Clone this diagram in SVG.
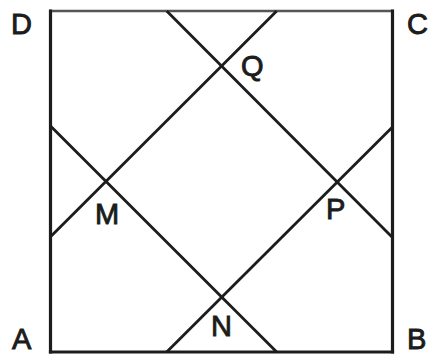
<svg xmlns="http://www.w3.org/2000/svg" width="431" height="355" viewBox="0 0 431 355">
<style>
.e{stroke:#1c1c1c;stroke-width:3.2;fill:none;stroke-linecap:square}
.l{stroke:#1c1c1c;stroke-width:2.8;fill:none}
text{font-family:"Liberation Sans",Arial,sans-serif;font-size:29px;fill:#1c1c1c;stroke:#1c1c1c;stroke-width:0.9}
</style>
<rect width="431" height="355" fill="#fff"/>
<g id="square">
<line class="e" x1="50.5" y1="11" x2="392.5" y2="11" style="stroke:#555;stroke-width:2.4"/>
<line class="e" x1="50.5" y1="11" x2="50.5" y2="352"/>
<line class="e" x1="392.5" y1="11" x2="392.5" y2="352"/>
<line class="e" x1="50.5" y1="352" x2="392.5" y2="352"/>
</g>
<g id="connectors">
<line class="l" x1="166.7" y1="11" x2="392.5" y2="237.5"/>
<line class="l" x1="276.7" y1="11" x2="50.5" y2="236.7"/>
<line class="l" x1="50.5" y1="126" x2="276.7" y2="352"/>
<line class="l" x1="392.5" y1="127" x2="166.7" y2="352"/>
</g>
<g id="D"><text x="11" y="34">D</text></g>
<g id="C"><text x="407" y="34">C</text></g>
<g id="A"><text x="12" y="349">A</text></g>
<g id="B"><text x="407" y="349">B</text></g>
<g id="Q"><text x="241" y="76">Q</text></g>
<g id="M"><text x="95" y="224">M</text></g>
<g id="P"><text x="326" y="219">P</text></g>
<g id="N"><text x="211" y="336">N</text></g>
</svg>
